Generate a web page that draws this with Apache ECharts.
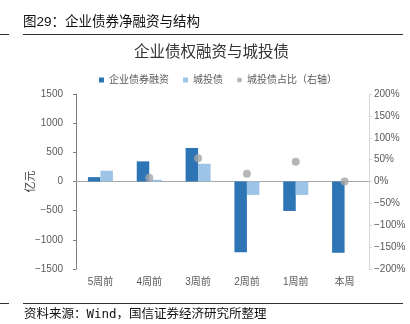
<!DOCTYPE html>
<html><head><meta charset="utf-8">
<script src="https://cdn.jsdelivr.net/npm/echarts@6/dist/echarts.min.js"></script>
<style>html,body{margin:0;padding:0;background:#fff}#c{width:410px;height:324px}</style>
</head><body><div id="c"></div>
<script>
var categories = ['5周前','4周前','3周前','2周前','1周前','本周'];
var corpBond = [75, 345, 575, -1212, -505, -1220];
var lgfvBond = [185, 30, 305, -230, -230, 0];
var lgfvShare = [null, 8.7, 53, 18, 45, 0];
var leftTicks = {min: -1500, max: 1500, interval: 500};
var rightTicks = {min: -200, max: 200, interval: 50};

var FONT = '"Liberation Sans","Noto Sans CJK SC",sans-serif';
var chart = echarts.init(document.getElementById('c'), null, {renderer: 'canvas'});
function minus(v){ return String(v).replace('-', '\u2212'); }
chart.setOption({
  backgroundColor: '#fff',
  animation: false,
  textStyle: {fontFamily: FONT},
  title: [
    {text: '图29：企业债券净融资与结构', left: 23, top: 16, padding: 0, textStyle: {fontSize: 13.5, fontWeight: 'normal', color: '#111', fontFamily: FONT}},
    {text: '企业债权融资与城投债', left: 134, top: 45, padding: 0, textStyle: {fontSize: 15.5, fontWeight: 'normal', color: '#333', fontFamily: FONT}},
    {text: '{a|资料来源：}{m|Wind}{a|，国信证券经济研究所整理}', left: 24, top: 308, padding: 0,
     textStyle: {fontSize: 12.5, fontWeight: 'normal', color: '#111', fontFamily: FONT,
       rich: {a: {fontSize: 12.5, color: '#111', fontFamily: FONT},
              m: {fontSize: 12.5, color: '#111', fontFamily: '"DejaVu Sans Mono","Liberation Mono",monospace'}}}}
  ],
  graphic: [
    {type: 'line', shape: {x1: 0, y1: 34.5, x2: 9, y2: 34.5}, style: {stroke: '#333', lineWidth: 1}},
    {type: 'line', shape: {x1: 23, y1: 34.5, x2: 403, y2: 34.5}, style: {stroke: '#333', lineWidth: 1}},
    {type: 'line', shape: {x1: 0, y1: 303.5, x2: 9, y2: 303.5}, style: {stroke: '#333', lineWidth: 1}},
    {type: 'line', shape: {x1: 23, y1: 303.5, x2: 403, y2: 303.5}, style: {stroke: '#333', lineWidth: 1}}
  ],
  legend: {
    top: 75, left: 99, padding: 0, itemGap: 14, itemWidth: 5, itemHeight: 5,
    textStyle: {fontSize: 10, color: '#595959', fontFamily: FONT},
    data: [{name: '企业债券融资', icon: 'rect'}, {name: '城投债', icon: 'rect'}, {name: '城投债占比（右轴）', icon: 'circle'}]
  },
  grid: {left: 76, right: 41, top: 94, bottom: 55},
  xAxis: {
    type: 'category', data: categories,
    axisLine: {onZero: true, lineStyle: {color: '#A6A6A6'}},
    axisTick: {show: false},
    axisLabel: {fontSize: 10, color: '#595959', margin: 8, fontFamily: FONT},
    position: 'bottom'
  },
  yAxis: [
    {type: 'value', min: leftTicks.min, max: leftTicks.max, interval: leftTicks.interval,
     name: '亿元', nameLocation: 'middle', nameGap: 40, nameRotate: 90, nameMoveOverlap: false,
     nameTextStyle: {fontSize: 11, color: '#404040', fontFamily: FONT},
     axisLine: {show: true, lineStyle: {color: '#808080'}},
     axisTick: {show: true, length: 3, lineStyle: {color: '#808080'}},
     splitLine: {show: false},
     axisLabel: {fontSize: 10, color: '#595959', margin: 13, formatter: minus}},
    {type: 'value', min: rightTicks.min, max: rightTicks.max, interval: rightTicks.interval,
     axisLine: {show: true, lineStyle: {color: '#D9D9D9'}},
     axisTick: {show: true, length: 3, lineStyle: {color: '#D9D9D9'}},
     splitLine: {show: false},
     axisLabel: {fontSize: 10, color: '#595959', margin: 5, formatter: function(v){ return minus(v) + '%'; }}}
  ],
  series: [
    {name: '企业债券融资', type: 'bar', data: corpBond, barWidth: 12.5, barGap: '0%',
     itemStyle: {color: '#2E75B6'}},
    {name: '城投债', type: 'bar', data: lgfvBond, barWidth: 12.5, barGap: '0%',
     itemStyle: {color: '#9DC3E6'}},
    {name: '城投债占比（右轴）', type: 'scatter', yAxisIndex: 1, data: lgfvShare, symbolSize: 8,
     itemStyle: {color: '#A5A5A5'}}
  ]
});
</script></body></html>
